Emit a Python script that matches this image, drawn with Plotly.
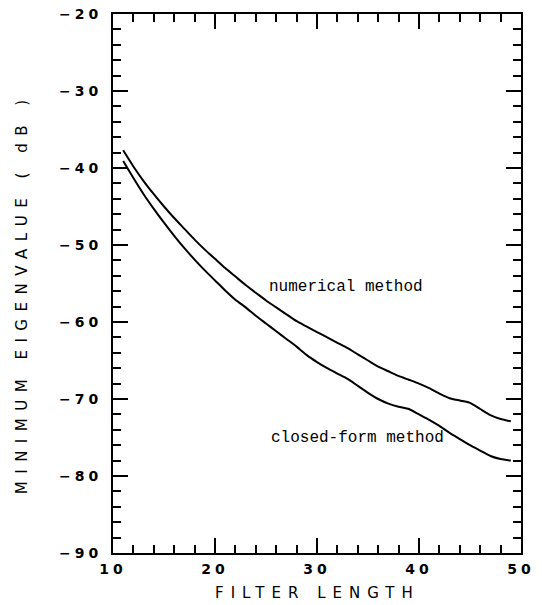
import plotly.graph_objects as go

filter_length = list(range(11, 50))
numerical = [-37.7, -39.8, -41.7, -43.4, -45.0, -46.5, -47.9, -49.3, -50.6, -51.8,
             -53.0, -54.1, -55.2, -56.2, -57.2, -58.1, -59.0, -59.9, -60.6, -61.3,
             -62.0, -62.7, -63.4, -64.2, -65.0, -65.8, -66.4, -67.0, -67.5, -68.0,
             -68.6, -69.3, -69.9, -70.2, -70.5, -71.3, -72.1, -72.6, -72.9]
closed_form = [-39.1, -41.3, -43.4, -45.3, -47.1, -48.8, -50.4, -51.9, -53.3, -54.6,
               -55.9, -57.1, -58.1, -59.2, -60.2, -61.2, -62.2, -63.2, -64.3, -65.2,
               -66.0, -66.7, -67.4, -68.3, -69.2, -70.0, -70.6, -71.0, -71.3, -72.0,
               -72.7, -73.5, -74.4, -75.2, -76.0, -76.7, -77.4, -77.8, -78.0]
x_ticks = [10, 20, 30, 40, 50]
y_ticks = [-90, -80, -70, -60, -50, -40, -30, -20]
labels = ["numerical method", "closed-form method"]
label_x = [25.1, 25.3]
label_y = [-55.5, -75.1]
x_title = "FILTER LENGTH"
y_title = "MINIMUM EIGENVALUE ( dB )"


def spaced(s, px):
    return '<span style="letter-spacing:%spx">%s</span>' % (px, s)


fig = go.Figure()
fig.add_trace(go.Scatter(x=filter_length, y=numerical, mode="lines",
                         line=dict(color="black", width=2, shape="spline", smoothing=0.6),
                         showlegend=False))
fig.add_trace(go.Scatter(x=filter_length, y=closed_form, mode="lines",
                         line=dict(color="black", width=2, shape="spline", smoothing=0.6),
                         showlegend=False))

for t, lx, ly in zip(labels, label_x, label_y):
    fig.add_annotation(x=lx, y=ly, text=t, showarrow=False, xanchor="left", yanchor="middle",
                       font=dict(family="Liberation Mono", size=16, color="black"))

tfont = dict(family="DejaVu Sans", size=14, color="black", weight="bold")
axis_common = dict(showgrid=False, zeroline=False, showline=True, linecolor="black",
                   linewidth=2, mirror="allticks", ticks="inside", tickcolor="black",
                   tickwidth=2, ticklen=15, automargin=False, tickfont=tfont)

fig.update_xaxes(range=[10, 50], tickvals=x_ticks,
                 ticktext=[spaced(str(v), 4) for v in x_ticks],
                 ticklabelstandoff=2,
                 minor=dict(dtick=2, ticks="inside", ticklen=8, tickwidth=2, tickcolor="black"),
                 **axis_common)
fig.update_yaxes(range=[-90, -20], tickvals=y_ticks,
                 ticktext=[spaced("\u2212" + str(abs(v)), 4) for v in y_ticks],
                 ticklabelstandoff=6,
                 minor=dict(dtick=2, ticks="inside", ticklen=8, tickwidth=2, tickcolor="black"),
                 **axis_common)

fig.add_annotation(xref="paper", yref="paper", x=0.5, y=-0.075, yanchor="middle",
                   text=spaced(x_title, 7), showarrow=False,
                   font=dict(family="DejaVu Sans", size=15, color="black"))
fig.add_annotation(xref="paper", yref="paper", x=-0.223, y=0.482, xanchor="center",
                   text=spaced(y_title, 7.5), showarrow=False, textangle=-90,
                   font=dict(family="DejaVu Sans", size=15, color="black"))

fig.update_layout(width=542, height=605, plot_bgcolor="white", paper_bgcolor="white",
                  margin=dict(l=113, r=21, t=14, b=52))

fig.write_html("out.html", config={"displayModeBar": False},
               post_script="document.body.style.margin='0px';")
